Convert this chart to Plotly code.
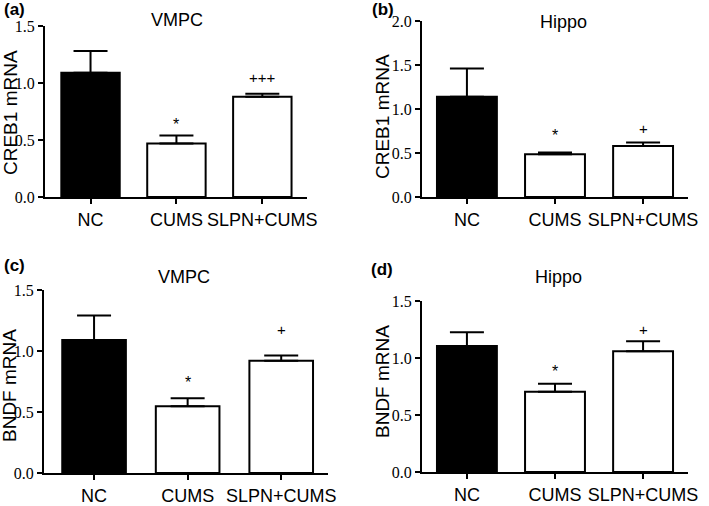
import plotly.graph_objects as go

# ---------------------------------------------------------------------------
# Data
# ---------------------------------------------------------------------------
GROUPS = ["NC", "CUMS", "SLPN+CUMS"]
BAR_COLORS = ["black", "white", "white"]

creb1_vmpc = [1.09, 0.47, 0.88]
creb1_vmpc_err = [0.19, 0.07, 0.025]
creb1_hippo = [1.14, 0.485, 0.58]
creb1_hippo_err = [0.32, 0.02, 0.04]
bdnf_vmpc = [1.09, 0.548, 0.92]
bdnf_vmpc_err = [0.20, 0.065, 0.043]
bdnf_hippo = [1.105, 0.705, 1.06]
bdnf_hippo_err = [0.12, 0.07, 0.087]

# significance marks: (group, text, y position)
marks_a = [("CUMS", "*", 0.637), ("SLPN+CUMS", "+++", 1.047)]
marks_b = [("CUMS", "*", 0.70), ("SLPN+CUMS", "+", 0.78)]
marks_c = [("CUMS", "*", 0.744), ("SLPN+CUMS", "+", 1.18)]
marks_d = [("CUMS", "*", 0.886), ("SLPN+CUMS", "+", 1.25)]

W, H = 709, 506
SANS = "Liberation Sans, Arial, sans-serif"
SERIF = "Liberation Serif, Times New Roman, serif"

# pixel boxes of each panel (plot area), title / label positions
panels = [
    dict(letter="(a)", title="VMPC", ytitle="CREB1 mRNA", y=creb1_vmpc, err=creb1_vmpc_err,
         marks=marks_a, xpx=(45, 307), ypx=(26, 197), xr=(-0.53, 2.52), ymax=1.5,
         ytpos=(10, 113), tpos=(177, 20), lpos=(2, 9)),
    dict(letter="(b)", title="Hippo", ytitle="CREB1 mRNA", y=creb1_hippo, err=creb1_hippo_err,
         marks=marks_b, xpx=(422, 688), ypx=(21, 197), xr=(-0.51, 2.51), ymax=2.0,
         ytpos=(382, 117), tpos=(563, 22), lpos=(370, 9)),
    dict(letter="(c)", title="VMPC", ytitle="BNDF mRNA", y=bdnf_vmpc, err=bdnf_vmpc_err,
         marks=marks_c, xpx=(44, 328), ypx=(290, 473), xr=(-0.535, 2.50), ymax=1.5,
         ytpos=(9, 386), tpos=(184, 277), lpos=(2, 265)),
    dict(letter="(d)", title="Hippo", ytitle="BNDF mRNA", y=bdnf_hippo, err=bdnf_hippo_err,
         marks=marks_d, xpx=(422, 688), ypx=(301, 472), xr=(-0.51, 2.51), ymax=1.5,
         ytpos=(382, 382), tpos=(558, 277), lpos=(369, 269)),
]

fig = go.Figure()
annotations = []
layout = {}

for i, p in enumerate(panels, start=1):
    sfx = "" if i == 1 else str(i)
    xa, ya = "x" + sfx, "y" + sfx

    fig.add_trace(go.Bar(
        x=list(range(len(GROUPS))), y=p["y"],
        marker=dict(color=BAR_COLORS, line=dict(color="black", width=2)),
        width=0.68,
        error_y=dict(type="data", array=p["err"], arrayminus=[0, 0, 0], symmetric=False,
                     color="black", thickness=2, width=17),
        xaxis=xa, yaxis=ya, showlegend=False, hoverinfo="skip",
    ))

    x0, x1 = p["xpx"]
    y0, y1 = p["ypx"]
    layout["xaxis" + sfx] = dict(
        domain=[x0 / W, x1 / W], anchor=ya, range=list(p["xr"]),
        tickmode="array", tickvals=list(range(len(GROUPS))), ticktext=GROUPS,
        ticks="outside", ticklen=5, tickwidth=2, tickcolor="black",
        showline=True, linecolor="black", linewidth=2, showgrid=False, zeroline=False,
        tickfont=dict(family=SANS, size=18, color="black"),
        automargin=False, fixedrange=True,
    )
    layout["yaxis" + sfx] = dict(
        domain=[1 - y1 / H, 1 - y0 / H], anchor=xa, range=[0, p["ymax"]],
        dtick=0.5, tick0=0, tickformat=".1f",
        ticks="outside", ticklen=5, tickwidth=2, tickcolor="black",
        showline=True, linecolor="black", linewidth=2, showgrid=False, zeroline=False,
        tickfont=dict(family=SERIF, size=16, color="black"),
        automargin=False, fixedrange=True,
    )

    # y-axis title
    annotations.append(dict(
        text=p["ytitle"], textangle=-90, xref="paper", yref="paper",
        x=p["ytpos"][0] / W, y=1 - p["ytpos"][1] / H, xanchor="center", yanchor="middle",
        showarrow=False, font=dict(family=SANS, size=19, color="black"),
    ))
    # panel title
    annotations.append(dict(
        text=p["title"], xref="paper", yref="paper",
        x=p["tpos"][0] / W, y=1 - p["tpos"][1] / H, xanchor="center", yanchor="middle",
        showarrow=False, font=dict(family=SANS, size=18, color="black"),
    ))
    # panel letter
    annotations.append(dict(
        text="<b>" + p["letter"] + "</b>", xref="paper", yref="paper",
        x=p["lpos"][0] / W, y=1 - p["lpos"][1] / H, xanchor="left", yanchor="middle",
        showarrow=False, font=dict(family=SANS, size=17, color="black"),
    ))
    # significance marks
    for grp, txt, yv in p["marks"]:
        annotations.append(dict(
            text=txt, xref=xa, yref=ya, x=GROUPS.index(grp), y=yv,
            xanchor="center", yanchor="middle", showarrow=False,
            font=dict(family=SANS, size=16 if txt == "*" else 15, color="black"),
        ))

fig.update_layout(
    width=W, height=H,
    margin=dict(l=0, r=0, t=0, b=0, autoexpand=False),
    plot_bgcolor="white", paper_bgcolor="white",
    annotations=annotations,
    **layout,
)

# drop the default page margin so the figure sits at the window's corner
fig.write_html(
    "out.html",
    config={"displayModeBar": False},
    post_script="document.body.style.margin = '0';",
)
